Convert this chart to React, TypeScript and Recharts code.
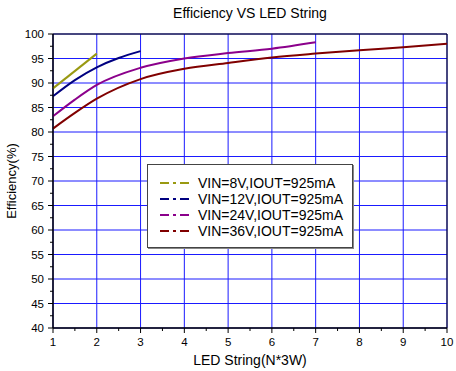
import { LineChart, Line, XAxis, YAxis, CartesianGrid, ReferenceArea } from 'recharts';

const N_8V = [1, 2];
const EFF_8V = [88.9, 96.0];
const N_12V = [1, 1.5, 2, 2.5, 3];
const EFF_12V = [87.3, 90.6, 93.2, 95.1, 96.5];
const N_24V = [1, 1.5, 2, 3, 4, 5, 6, 7];
const EFF_24V = [83.2, 86.6, 89.6, 93.1, 95.0, 96.1, 97.0, 98.3];
const N_36V = [1, 1.5, 2, 3, 4, 5, 6, 7, 8, 9, 10];
const EFF_36V = [80.7, 83.9, 86.8, 90.8, 92.9, 94.1, 95.2, 96.0, 96.7, 97.3, 98.0];

const SERIES_NAMES = [
  'VIN=8V,IOUT=925mA',
  'VIN=12V,IOUT=925mA',
  'VIN=24V,IOUT=925mA',
  'VIN=36V,IOUT=925mA',
];
const SERIES_COLORS = ['#999911', '#000080', '#8b008b', '#800000'];

const X_MAJOR = [1, 2, 3, 4, 5, 6, 7, 8, 9, 10];
const X_TICKS = [1, 1.5, 2, 2.5, 3, 3.5, 4, 4.5, 5, 5.5, 6, 6.5, 7, 7.5, 8, 8.5, 9, 9.5, 10];
const Y_MAJOR = [40, 45, 50, 55, 60, 65, 70, 75, 80, 85, 90, 95, 100];
const Y_TICKS = [40, 42.5, 45, 47.5, 50, 52.5, 55, 57.5, 60, 62.5, 65, 67.5, 70, 72.5, 75, 77.5, 80, 82.5, 85, 87.5, 90, 92.5, 95, 97.5, 100];

const toPoints = (xs: number[], ys: number[]) => xs.map((n, i) => ({ n, eff: ys[i] }));
const seriesData = [
  toPoints(N_8V, EFF_8V),
  toPoints(N_12V, EFF_12V),
  toPoints(N_24V, EFF_24V),
  toPoints(N_36V, EFF_36V),
];

const FONT = '"Liberation Sans", Arial, sans-serif';

function XTick({ x, y, payload }: any) {
  const major = Number.isInteger(payload.value);
  return (
    <g>
      <line x1={x} x2={x} y1={y} y2={y + (major ? 5 : 3)} stroke="#000" />
      {major && (
        <text x={x} y={y + 18} textAnchor="middle" fontSize={11.5} fill="#000" fontFamily={FONT}>
          {payload.value}
        </text>
      )}
    </g>
  );
}

function YTick({ x, y, payload }: any) {
  const major = payload.value % 5 === 0;
  return (
    <g>
      <line x1={x} x2={x - (major ? 5 : 3)} y1={y} y2={y} stroke="#000" />
      {major && (
        <text x={x - 9} y={y + 4} textAnchor="end" fontSize={11.5} fill="#000" fontFamily={FONT}>
          {payload.value}
        </text>
      )}
    </g>
  );
}

export default function App() {
  return (
    <div style={{ position: 'absolute', left: 0, top: 0, width: 456, height: 371, background: '#fff', fontFamily: FONT }}>
      <LineChart width={456} height={371} margin={{ top: 34, right: 9, left: 0, bottom: 0 }}>
        <CartesianGrid stroke="#1a1aff" strokeWidth={1} verticalValues={X_MAJOR} horizontalValues={Y_MAJOR} />
        <XAxis
          dataKey="n"
          type="number"
          domain={[1, 10]}
          ticks={X_TICKS}
          interval={0}
          allowDuplicatedCategory={false}
          height={43}
          tickSize={0}
          tickMargin={0}
          tick={<XTick />}
          axisLine={{ stroke: '#000' }}
        />
        <YAxis
          type="number"
          domain={[40, 100]}
          ticks={Y_TICKS}
          interval={0}
          width={53}
          tickSize={0}
          tickMargin={0}
          tick={<YTick />}
          axisLine={{ stroke: '#000' }}
        />
        <ReferenceArea x1={1} x2={10} y1={40} y2={100} fill="none" stroke="#000" strokeWidth={1} />
        {seriesData.map((d, i) => (
          <Line
            key={SERIES_NAMES[i]}
            data={d}
            dataKey="eff"
            name={SERIES_NAMES[i]}
            type="monotone"
            stroke={SERIES_COLORS[i]}
            strokeWidth={2}
            dot={false}
            isAnimationActive={false}
          />
        ))}
      </LineChart>
      <div style={{ position: 'absolute', left: 0, top: 5, width: 500, textAlign: 'center', fontSize: 14, color: '#000' }}>
        Efficiency VS LED String
      </div>
      <div style={{ position: 'absolute', left: 50, top: 352, width: 400, textAlign: 'center', fontSize: 14, color: '#000' }}>
        LED String(N*3W)
      </div>
      <div
        style={{
          position: 'absolute',
          left: 11,
          top: 181,
          transform: 'translate(-50%, -50%) rotate(-90deg)',
          fontSize: 13,
          whiteSpace: 'nowrap',
          color: '#000',
        }}
      >
        Efficiency(%)
      </div>
      <div
        style={{
          position: 'absolute',
          left: 147,
          top: 164,
          width: 204,
          height: 82,
          border: '1px solid #444',
          boxShadow: '1px 1px 0 #888',
          background: '#fff',
          boxSizing: 'content-box',
        }}
      >
        {SERIES_NAMES.map((name, i) => (
          <div key={name} style={{ position: 'absolute', left: 12, top: 10 + i * 16, height: 16, display: 'flex', alignItems: 'center' }}>
            <svg width={36} height={16}>
              <line x1={0} x2={35} y1={8} y2={8} stroke={SERIES_COLORS[i]} strokeWidth={2} strokeDasharray="9 4 3 4 9" />
            </svg>
            <span style={{ fontSize: 14, marginLeft: 2, color: '#000' }}>{name}</span>
          </div>
        ))}
      </div>
    </div>
  );
}
